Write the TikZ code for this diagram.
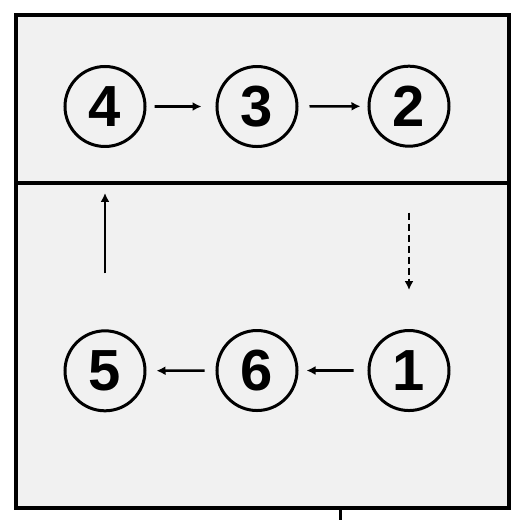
\documentclass[tikz,border=0pt]{standalone}
\usepackage{fontspec}
\setsansfont{Liberation Sans}
\usepackage{tikz}
\usetikzlibrary{matrix,arrows.meta}

\begin{document}
\begin{tikzpicture}[x=1pt,y=-1pt,
      flow/.style={line width=2.6pt,-{Latex[length=9pt,width=9pt]}},
      ]
      \useasboundingbox (0,0) rectangle (517,520);
      \fill[white] (0,0) rectangle (517,520);
      \fill[gray!11] (16,15) rectangle (509,508);
      \draw[line width=4pt] (16,15) rectangle (509,508);
      \draw[line width=4pt] (16,183) -- (509,183);
      \draw[line width=3pt] (340,508) -- (340,520);
      \matrix(cycle)[
      matrix of nodes,
      row sep = 181pt,
      column sep = 69pt,
      nodes={circle, draw, line width=3pt,
             minimum size=80pt,
             inner sep=0pt,
             font=\sffamily\bfseries\fontsize{58}{60}\selectfont,
             },
      ] at (257,238.5)
      {
        4 & 3 & 2 \\
        5 & 6 & 1 \\
      };
      \draw[flow, shorten <=8pt, shorten >=14pt] (cycle-1-1) -- (cycle-1-2);
      \draw[flow, shorten <=11pt, shorten >=7pt] (cycle-1-2) -- (cycle-1-3);
      \draw[flow, dash pattern=on 7pt off 4pt, shorten <=65pt, shorten >=39pt] (cycle-1-3) -- (cycle-2-3);
      \draw[flow, shorten <=14pt, shorten >=8pt] (cycle-2-3) -- (cycle-2-2);
      \draw[flow, shorten <=11pt, shorten >=10pt] (cycle-2-2) -- (cycle-2-1);
      \draw[flow, shorten <=56pt, shorten >=45pt] (cycle-2-1) -- (cycle-1-1);
    \end{tikzpicture}
\end{document}
